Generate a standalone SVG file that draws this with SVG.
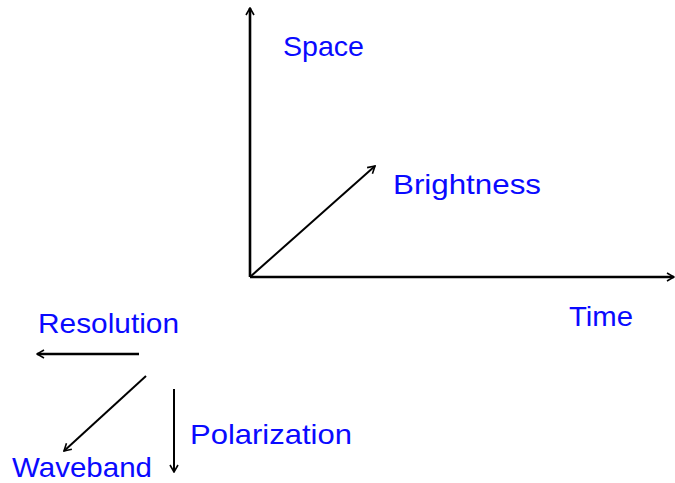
<svg xmlns="http://www.w3.org/2000/svg" width="675" height="483" viewBox="0 0 675 483">
<style>
.lbl{font-family:"Comic Sans MS","Liberation Sans","DejaVu Sans",sans-serif;font-size:28px;fill:#0a0aff;}
.ax{stroke:#000;stroke-width:2.6;fill:none;marker-end:url(#ah);}
.ar{stroke:#000;stroke-width:2;fill:none;marker-end:url(#ah);}
</style>
<defs>
<marker id="ah" markerUnits="userSpaceOnUse" viewBox="0 0 10 10" refX="9" refY="5" markerWidth="10" markerHeight="10" orient="auto">
<path d="M2,1 L9,5 L2,9" fill="none" stroke="#000" stroke-width="1.6"/>
</marker>
</defs>
<g id="connectors">
<line class="ax" x1="250" y1="277" x2="250" y2="8"/>
<line class="ax" x1="250" y1="277" x2="674" y2="277"/>
<line class="ar" x1="250" y1="277" x2="375" y2="166"/>
<line class="ax" x1="139" y1="354" x2="37" y2="354"/>
<line class="ar" x1="146" y1="376" x2="64" y2="451"/>
<line class="ar" x1="174" y1="389" x2="174" y2="472"/>
</g>
<g id="space"><text class="lbl" x="283" y="56" textLength="81" lengthAdjust="spacingAndGlyphs">Space</text></g>
<g id="brightness"><text class="lbl" x="393" y="194" textLength="148" lengthAdjust="spacingAndGlyphs">Brightness</text></g>
<g id="time"><text class="lbl" x="569" y="326" textLength="64" lengthAdjust="spacingAndGlyphs">Time</text></g>
<g id="resolution"><text class="lbl" x="38" y="333" textLength="141" lengthAdjust="spacingAndGlyphs">Resolution</text></g>
<g id="polarization"><text class="lbl" x="190" y="444" textLength="162" lengthAdjust="spacingAndGlyphs">Polarization</text></g>
<g id="waveband"><text class="lbl" x="12" y="477" textLength="140" lengthAdjust="spacingAndGlyphs">Waveband</text></g>
</svg>
